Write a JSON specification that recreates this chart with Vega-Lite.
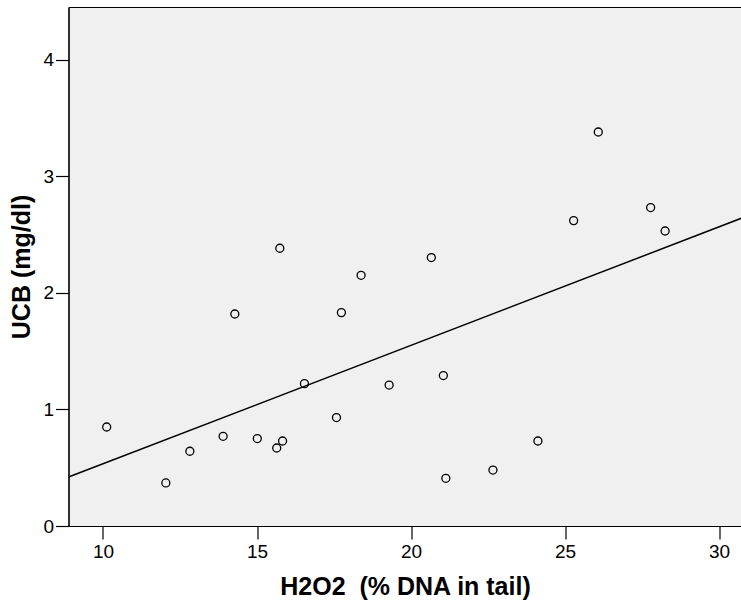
{
  "$schema": "https://vega.github.io/schema/vega-lite/v6.json",
  "width": 673,
  "height": 519,
  "autosize": {"type": "none"},
  "padding": {"left": 68.5, "top": 7, "right": 0, "bottom": 75},
  "background": "white",
  "config": {
    "view": {"fill": "#f0f0f0", "stroke": "black", "strokeWidth": 1},
    "font": "Liberation Sans",
    "axis": {
      "grid": false,
      "domainColor": "black",
      "domainWidth": 1.2,
      "tickColor": "black",
      "tickWidth": 1.2,
      "tickSize": 13,
      "labelFont": "Liberation Sans",
      "labelFontSize": 19,
      "labelColor": "black",
      "titleFont": "Liberation Sans",
      "titleFontSize": 25,
      "titleFontWeight": "bold",
      "titleColor": "black"
    }
  },
  "data": {
    "values": [
      {"h2o2": 10.12, "ucb": 0.849},
      {"h2o2": 12.04, "ucb": 0.369},
      {"h2o2": 12.82, "ucb": 0.641},
      {"h2o2": 13.90, "ucb": 0.769},
      {"h2o2": 15.01, "ucb": 0.750},
      {"h2o2": 15.64, "ucb": 0.669},
      {"h2o2": 15.83, "ucb": 0.729},
      {"h2o2": 14.28, "ucb": 1.818},
      {"h2o2": 15.74, "ucb": 2.382},
      {"h2o2": 18.38, "ucb": 2.150},
      {"h2o2": 20.66, "ucb": 2.302},
      {"h2o2": 17.74, "ucb": 1.830},
      {"h2o2": 16.54, "ucb": 1.221},
      {"h2o2": 19.29, "ucb": 1.209},
      {"h2o2": 21.05, "ucb": 1.290},
      {"h2o2": 17.58, "ucb": 0.930},
      {"h2o2": 21.13, "ucb": 0.409},
      {"h2o2": 26.08, "ucb": 3.379},
      {"h2o2": 25.28, "ucb": 2.619},
      {"h2o2": 27.78, "ucb": 2.731},
      {"h2o2": 28.25, "ucb": 2.530},
      {"h2o2": 24.12, "ucb": 0.729},
      {"h2o2": 22.66, "ucb": 0.480}
    ]
  },
  "encoding": {
    "x": {
      "field": "h2o2",
      "type": "quantitative",
      "scale": {"domain": [8.88, 30.73], "nice": false, "zero": false},
      "axis": {"values": [10, 15, 20, 25, 30], "labelPadding": 3, "titlePadding": 13, "title": "H2O2\u00a0 (% DNA in tail)"}
    },
    "y": {
      "field": "ucb",
      "type": "quantitative",
      "scale": {"domain": [0, 4.451], "nice": false},
      "axis": {"values": [0, 1, 2, 3, 4], "labelPadding": 2, "titlePadding": 8, "title": "UCB (mg/dl)"}
    }
  },
  "layer": [
    {
      "mark": {"type": "point", "shape": "circle", "filled": false, "color": "black", "strokeWidth": 1.3, "size": 64, "opacity": 1}
    },
    {
      "transform": [{"regression": "ucb", "on": "h2o2", "extent": [8.88, 30.73]}],
      "mark": {"type": "line", "color": "black", "strokeWidth": 1.5, "clip": true}
    }
  ]
}
